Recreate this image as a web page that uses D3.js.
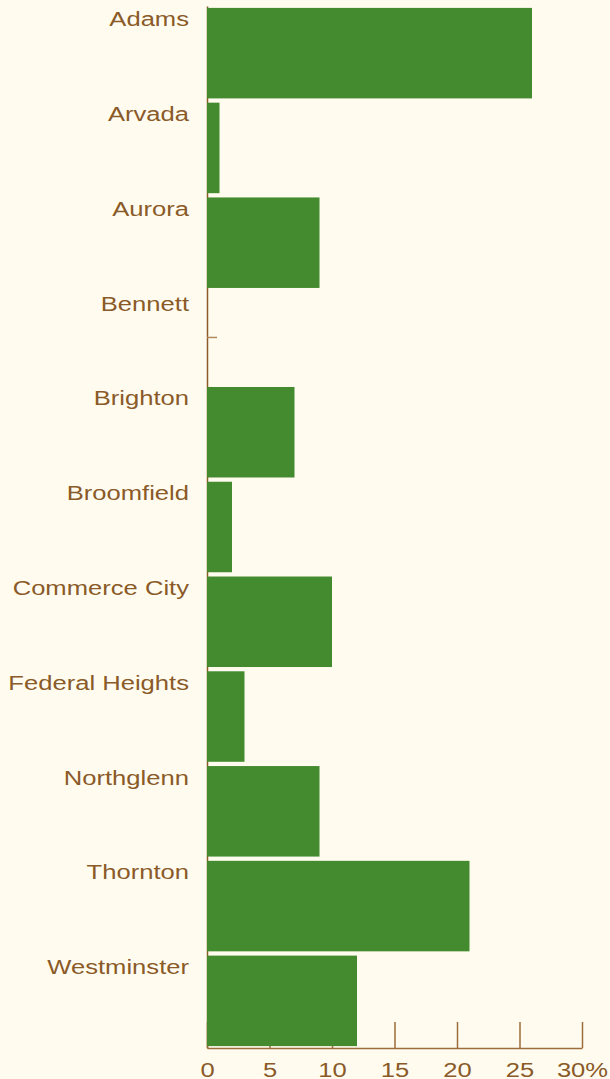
<!DOCTYPE html>
<html>
<head>
<meta charset="utf-8">
<script src="https://cdn.jsdelivr.net/npm/d3@7"></script>
<style>
  body { margin: 0; background: #FFFCEF; }
  svg { display: block; }
  text { font-family: "Liberation Sans", Arial, sans-serif; fill: #8A5A28; }
</style>
</head>
<body>
<div id="container"></div>
<script>
const cities = ['Adams', 'Arvada', 'Aurora', 'Bennett', 'Brighton', 'Broomfield',
    'Commerce City', 'Federal Heights', 'Northglenn', 'Thornton', 'Westminster']
const shares = [26, 1, 9, 0, 7, 2, 10, 3, 9, 21, 12]
const xTicks = [0, 5, 10, 15, 20, 25, 30]

const width = 610
const height = 1079
const margin = { top: 6, right: 28, bottom: 31, left: 207 }
const stretch = 1.28   // the text in the original is drawn wide

const svg = d3.select('#container').append('svg')
    .attr('width', width).attr('height', height)
    .style('background', '#FFFCEF')

const xScale = d3.scaleLinear()
    .domain([0, 30])
    .range([margin.left, width - margin.right])

const yScale = d3.scaleBand()
    .domain(cities)
    .range([margin.top, height - margin.bottom])
    .paddingInner(0.045)
    .paddingOuter(0.02)

// y axis: ticks point into the plot, bars cover them
const yAxis = d3.axisRight(yScale).tickSize(10).tickSizeOuter(0).tickFormat('')
const gy = svg.append('g')
    .attr('id', 'y-axis')
    .attr('transform', `translate(${margin.left}, 0)`)
    .call(yAxis)
gy.select('.domain').attr('stroke', '#8A5A28').attr('stroke-width', 1.5)
gy.selectAll('.tick line').attr('stroke', '#B08A5E').attr('stroke-width', 1.5)

// x axis with ticks going up
const xAxis = d3.axisBottom(xScale)
    .tickValues(xTicks)
    .tickSize(-26)
    .tickSizeOuter(0)
    .tickFormat(d => d === 30 ? d + '%' : d)
const gx = svg.append('g')
    .attr('id', 'x-axis')
    .attr('transform', `translate(0, ${height - margin.bottom})`)
    .call(xAxis)
gx.select('.domain').attr('stroke', '#9C6C3A').attr('stroke-width', 1.5)
gx.selectAll('.tick line').attr('stroke', '#9C6C3A').attr('stroke-width', 1.5)
gx.selectAll('.tick text')
    .attr('y', null)
    .attr('dy', null)
    .attr('transform', `translate(0, 28.5) scale(${stretch}, 1)`)
    .style('font-size', '20px')
    .style('font-family', '"Liberation Sans", Arial, sans-serif')
    .attr('fill', '#8A5A28')

svg.selectAll('rect.bar').data(cities).enter().append('rect')
    .attr('class', 'bar')
    .attr('x', xScale(0))
    .attr('y', d => yScale(d))
    .attr('width', (d, i) => xScale(shares[i]) - xScale(0))
    .attr('height', yScale.bandwidth())
    .attr('fill', '#448A2F')

svg.selectAll('text.label').data(cities).enter().append('text')
    .attr('class', 'label')
    .attr('transform', d => `translate(189, ${yScale(d) + 18.5}) scale(${stretch}, 1)`)
    .attr('text-anchor', 'end')
    .style('font-size', '20px')
    .text(d => d)
</script>
</body>
</html>
